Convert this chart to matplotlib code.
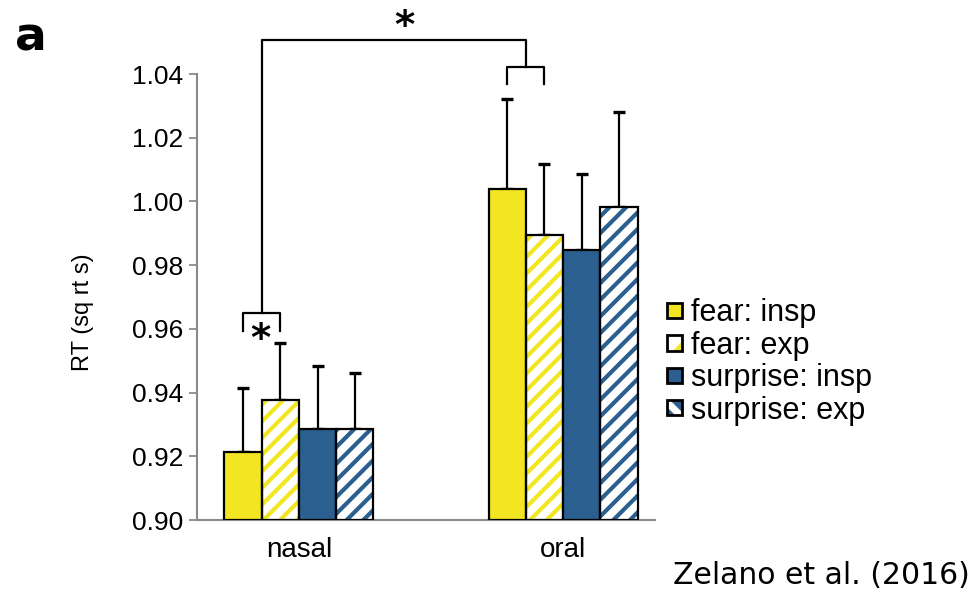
import matplotlib
matplotlib.use("Agg")
import matplotlib.pyplot as plt
from matplotlib.patches import Patch, Rectangle, Polygon
from matplotlib.legend_handler import HandlerBase
import numpy as np

plt.rcParams['font.family'] = ['Liberation Sans', 'DejaVu Sans']
plt.rcParams['hatch.linewidth'] = 3.0

categories = ["nasal", "oral"]
series_names = ["fear: insp", "fear: exp", "surprise: insp", "surprise: exp"]
means = {
    "fear: insp":     [0.9214, 1.0038],
    "fear: exp":      [0.9377, 0.9894],
    "surprise: insp": [0.9285, 0.9847],
    "surprise: exp":  [0.9285, 0.9984],
}
err_tops = {
    "fear: insp":     [0.9413, 1.0321],
    "fear: exp":      [0.9557, 1.0116],
    "surprise: insp": [0.9484, 1.0086],
    "surprise: exp":  [0.9462, 1.0280],
}
yticks = [0.90, 0.92, 0.94, 0.96, 0.98, 1.00, 1.02, 1.04]

YELLOW = "#F2E622"
BLUE = "#2A5F8F"
colors = [YELLOW, YELLOW, BLUE, BLUE]
hatched = [False, True, False, True]

fig = plt.figure(figsize=(9.76, 5.94), dpi=100)
ax = fig.add_axes([197/976, 1-520/594, (655-197)/976, (520-74)/594])

x = np.arange(len(categories))
w = 0.141
offsets = [-1.5*w, -0.5*w, 0.5*w, 1.5*w]
base = 0.90

for i, name in enumerate(series_names):
    xs = x + offsets[i]
    h = np.array(means[name]) - base
    if hatched[i]:
        ax.bar(xs, h, w, bottom=base, color="white", edgecolor=colors[i],
               hatch="//", linewidth=0, zorder=2)
        ax.bar(xs, h, w, bottom=base, fill=False, edgecolor="black",
               linewidth=1.6, zorder=3)
    else:
        ax.bar(xs, h, w, bottom=base, color=colors[i], edgecolor="black",
               linewidth=1.6, zorder=3)
    errs = np.array(err_tops[name]) - np.array(means[name])
    ax.errorbar(xs, means[name], yerr=[np.zeros_like(errs), errs], fmt="none",
                ecolor="black", elinewidth=1.6, capsize=4.5, capthick=2.4, zorder=1)

ax.set_xlim(-0.386, 1.348)
ax.set_ylim(0.90, 1.04)
ax.set_yticks(yticks)
ax.set_yticklabels([f"{t:.2f}" for t in yticks], fontsize=19)
ax.set_xticks(x)
ax.set_xticklabels(categories, fontsize=20)
ax.tick_params(axis="x", length=0, pad=12)
ax.tick_params(axis="y", length=6, width=1.3, color="#8a8a8a", pad=4)
for s in ["top", "right"]:
    ax.spines[s].set_visible(False)
for s in ["left", "bottom"]:
    ax.spines[s].set_color("#8a8a8a")
    ax.spines[s].set_linewidth(1.5)
ax.set_ylabel("RT (sq rt s)", fontsize=17)
ax.yaxis.set_label_coords(-0.225, 0.465)

# significance brackets
lw = 1.6
nx1, nx2 = x[0] + offsets[0], x[0] + offsets[1]
ax.plot([nx1, nx1, nx2, nx2], [0.9594, 0.965, 0.965, 0.9594], color="black", lw=lw, clip_on=False)
ax.text((nx1 + nx2) / 2 - 0.005, 0.9565, "*", ha="center", va="center", fontsize=28,
        fontweight="bold", family="DejaVu Sans")
ox1, ox2 = x[1] + offsets[0], x[1] + offsets[1]
ax.plot([ox1, ox1, ox2, ox2], [1.0369, 1.0421, 1.0421, 1.0369], color="black", lw=lw, clip_on=False)
nc, oc = (nx1 + nx2) / 2, (ox1 + ox2) / 2
ax.plot([nc, nc, oc, oc], [0.965, 1.0507, 1.0507, 1.0421], color="black", lw=lw, clip_on=False)
ax.text((nc + oc) / 2 + 0.04, 1.0548, "*", ha="center", va="center", fontsize=28,
        fontweight="bold", family="DejaVu Sans")


class SquareHandler(HandlerBase):
    def __init__(self, color, kind):
        super().__init__()
        self.color = color
        self.kind = kind

    def create_artists(self, legend, orig_handle, xdescent, ydescent, width, height,
                       fontsize, trans):
        s = min(width, height)
        x0, y0 = -xdescent, -ydescent + (height - s) / 2
        arts = [Rectangle((x0, y0), s, s, facecolor="white" if self.kind else self.color,
                          edgecolor="none", transform=trans)]
        if self.kind == 1:
            arts.append(Polygon([(x0 + s, y0), (x0 + s, y0 + 0.6 * s), (x0 + 0.4 * s, y0)],
                                closed=True, facecolor=self.color, edgecolor="none",
                                transform=trans))
            arts.append(Polygon([(x0, y0 + s), (x0, y0 + 0.75 * s), (x0 + 0.25 * s, y0 + s)],
                                closed=True, facecolor=self.color, edgecolor="none",
                                transform=trans))
        elif self.kind == 2:
            arts.append(Polygon([(x0, y0), (x0 + 0.55 * s, y0), (x0, y0 + 0.55 * s)],
                                closed=True, facecolor=self.color, edgecolor="none",
                                transform=trans))
            arts.append(Polygon([(x0 + s, y0 + s), (x0 + 0.2 * s, y0 + s),
                                 (x0 + s, y0 + 0.2 * s)],
                                closed=True, facecolor=self.color, edgecolor="none",
                                transform=trans))
        arts.append(Rectangle((x0, y0), s, s, facecolor="none", edgecolor="black",
                              linewidth=2.0, transform=trans))
        return arts


kinds = [0, 1, 0, 2]
handles = [Patch(facecolor=colors[i], label=name) for i, name in enumerate(series_names)]
handler_map = {handles[i]: SquareHandler(colors[i], kinds[i]) for i in range(4)}
leg = ax.legend(handles=handles, handler_map=handler_map, loc="center left",
                bbox_to_anchor=(667/976, 1-362/594),
                bbox_transform=fig.transFigure, frameon=False, fontsize=22,
                handlelength=0.5, handleheight=0.5, handletextpad=0.3, labelspacing=0.08,
                borderaxespad=0, borderpad=0)

fig.text(31/976, 1-38/594, "a", fontsize=34, fontweight="bold", family="DejaVu Sans",
         ha="center", va="center")
fig.text(970/976, 1-576/594, "Zelano et al. (2016)", fontsize=21.5, family="DejaVu Sans",
         ha="right", va="center")

fig.savefig("out.png", dpi=100)
